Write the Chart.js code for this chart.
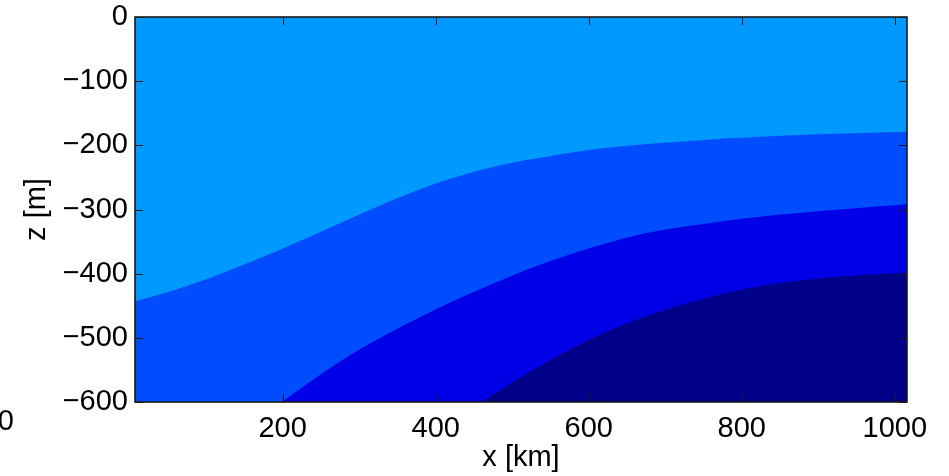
<!DOCTYPE html>
<html>
<head>
<meta charset="utf-8">
<script src="https://cdn.jsdelivr.net/npm/chart.js@4/dist/chart.umd.min.js"></script>
<style>
  html, body { margin: 0; padding: 0; background: #fff; }
  #wrap { width: 949px; height: 476px; }
</style>
</head>
<body>
<div id="wrap"><canvas id="chart"></canvas></div>
<script>
// axis ranges and tick labels
const xRange = [7, 1016];
const zRange = [-600, 0];
const xTicks = [200, 400, 600, 800, 1000];
const zTicks = [0, -100, -200, -300, -400, -500, -600];

// contour boundaries (x in km, z in m), shallowest first
const surfaceX = [7, 1016];
const surfaceZ = [0, 0];
const contour1X = [7, 46, 85, 170, 255, 340, 419, 484, 549, 615, 746, 876, 1016];
const contour1Z = [-443, -430, -415, -376, -332, -287, -252, -231, -217, -205, -192, -184, -179];
const contour2X = [199, 262, 314, 401, 488, 523, 602, 674, 759, 841, 929, 1016];
const contour2Z = [-600, -547, -509, -455, -409, -392, -360, -337, -321, -309, -300, -292];
const contour3X = [460, 519, 606, 693, 780, 867, 955, 1016];
const contour3Z = [-600, -556, -500, -459, -430, -412, -402, -398];

const layerColors = ["#0099ff", "#004dff", "#0000e6", "#000088"];

const toPoints = (xs, zs) => xs.map((x, i) => ({ x: x, y: zs[i] }));

// each layer is filled from its upper boundary down to the bottom of the axes
const layer = (xs, zs, color, order) => ({
  data: toPoints(xs, zs),
  backgroundColor: color,
  borderColor: "transparent",
  borderWidth: 0,
  pointRadius: 0,
  fill: "start",
  cubicInterpolationMode: "monotone",
  order: order,
});

const FONT = "'Liberation Sans', Arial, Helvetica, sans-serif";
const FONT_SIZE = 29;
const minus = (v) => (v < 0 ? "\u2212" + Math.abs(v) : String(v));

// box round the axes with inward ticks on all four sides
const framePlugin = {
  id: "frame",
  afterDatasetsDraw(chart) {
    const { ctx, chartArea: a, scales } = chart;
    const len = 8;
    ctx.save();
    ctx.strokeStyle = "#1a1a1a";
    ctx.lineWidth = 1;
    xTicks.forEach((v) => {
      const px = Math.round(scales.x.getPixelForValue(v)) + 0.5;
      ctx.beginPath();
      ctx.moveTo(px, a.bottom);
      ctx.lineTo(px, a.bottom - len);
      ctx.moveTo(px, a.top);
      ctx.lineTo(px, a.top + len);
      ctx.stroke();
    });
    zTicks.forEach((v) => {
      const py = Math.round(scales.y.getPixelForValue(v)) + 0.5;
      ctx.beginPath();
      ctx.moveTo(a.left, py);
      ctx.lineTo(a.left + len, py);
      ctx.moveTo(a.right, py);
      ctx.lineTo(a.right - len, py);
      ctx.stroke();
    });
    ctx.lineWidth = 1.6;
    ctx.strokeRect(a.left, a.top, a.right - a.left, a.bottom - a.top);

    // stray label left over at the page edge
    ctx.fillStyle = "#000";
    ctx.font = FONT_SIZE + "px " + FONT;
    ctx.textAlign = "right";
    ctx.textBaseline = "middle";
    ctx.fillText("0", 14, 422);
    ctx.restore();
  },
};

new Chart(document.getElementById("chart"), {
  type: "line",
  data: {
    datasets: [
      layer(surfaceX, surfaceZ, layerColors[0], 4),
      layer(contour1X, contour1Z, layerColors[1], 3),
      layer(contour2X, contour2Z, layerColors[2], 2),
      layer(contour3X, contour3Z, layerColors[3], 1),
    ],
  },
  options: {
    responsive: true,
    maintainAspectRatio: false,
    animation: false,
    layout: { padding: { top: 17, right: 42, left: 0, bottom: 0 } },
    plugins: {
      legend: { display: false },
      tooltip: { enabled: false },
    },
    scales: {
      x: {
        type: "linear",
        min: xRange[0],
        max: xRange[1],
        grid: { display: false, drawTicks: false },
        border: { display: false },
        afterBuildTicks: (s) => {
          s.ticks = xTicks.map((v) => ({ value: v }));
        },
        afterFit: (s) => {
          s.height = 74;
          s.paddingLeft = 0;
          s.paddingRight = 0;
        },
        ticks: {
          color: "#000",
          padding: 10,
          maxRotation: 0,
          font: { family: FONT, size: FONT_SIZE },
          callback: (v) => minus(v),
        },
        title: {
          display: true,
          text: "x [km]",
          color: "#000",
          font: { family: FONT, size: FONT_SIZE },
          padding: { top: 0, bottom: 1 },
        },
      },
      y: {
        type: "linear",
        min: zRange[0],
        max: zRange[1],
        grid: { display: false, drawTicks: false },
        border: { display: false },
        afterBuildTicks: (s) => {
          s.ticks = zTicks.map((v) => ({ value: v }));
        },
        afterFit: (s) => {
          s.width = 135;
          s.paddingTop = 0;
          s.paddingBottom = 0;
        },
        ticks: {
          color: "#000",
          padding: 7,
          font: { family: FONT, size: FONT_SIZE },
          callback: (v) => minus(v),
        },
        title: {
          display: true,
          text: "z [m]",
          color: "#000",
          font: { family: FONT, size: FONT_SIZE },
          padding: { top: 20, bottom: 0 },
        },
      },
    },
  },
  plugins: [framePlugin],
});
</script>
</body>
</html>
